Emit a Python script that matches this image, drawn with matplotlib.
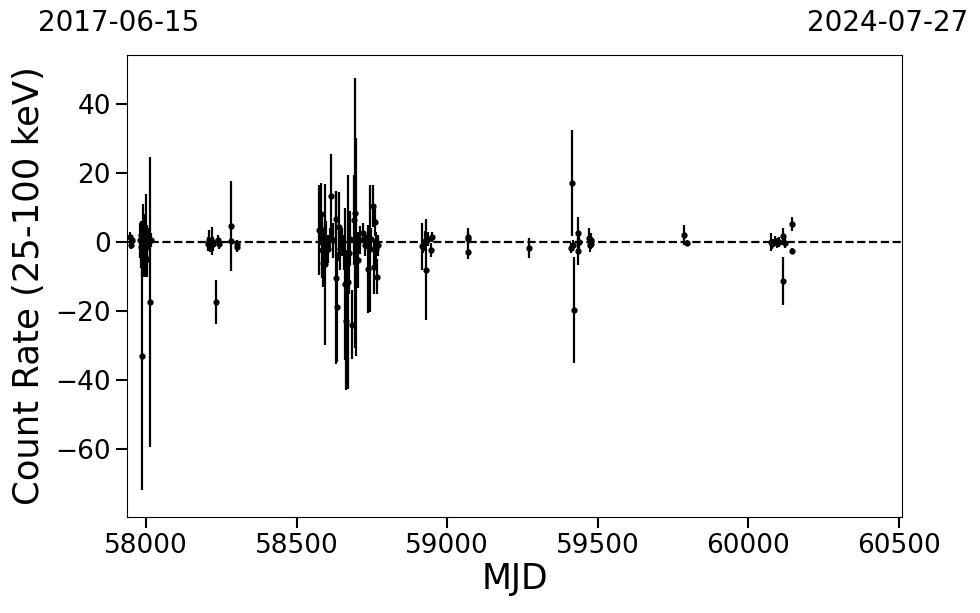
import matplotlib
matplotlib.use("Agg")
import matplotlib.pyplot as plt

# MJD, count rate, 1-sigma error
mjd = [57947, 57950, 57954,
       57980, 57983, 57985, 57987, 57988, 57990, 57992, 57994, 57997, 58000, 58003, 58005, 58008, 58013, 58017,
       58206, 58210, 58214, 58219, 58224, 58232, 58239, 58244, 58282, 58283, 58302, 58303,
       58574, 58581, 58584, 58584, 58588, 58591, 58594, 58598, 58604, 58611, 58614, 58621, 58631, 58631,
       58634, 58641, 58644, 58651, 58657, 58661, 58664, 58671, 58674, 58677, 58684, 58691, 58694, 58697,
       58704, 58710, 58720, 58727, 58734, 58737, 58744, 58747, 58754, 58757, 58760, 58764, 58767, 58770,
       58918, 58921, 58926, 58930, 58935, 58946, 58950, 59068, 59069, 59070, 59272,
       59412, 59414, 59418, 59421, 59434, 59434, 59436, 59472, 59474, 59476, 59478,
       59786, 59796,
       60076, 60080, 60088, 60095, 60102, 60115, 60115, 60122, 60145, 60145]
rate = [1.5, -0.8, 0.5,
        0.5, -1.5, 2.0, -3.0, -33.0, 1.0, -4.0, 3.0, -2.0, 2.0, 0.0, -5.0, 1.0, -17.5, 0.5,
        -0.5, 0.5, -1.0, 0.3, -0.5, -17.4, 0.5, -0.5, 4.6, 0.3, -1.5, -0.5,
        3.5, 8.0, 3.5, -2.3, -6.0, -1.0, -6.5, 0.0, -2.0, 1.0, 13.3, 0.5, 6.7, -10.4,
        -18.9, 4.4, -2.0, 0.0, -3.0, -12.2, -23.0, -11.5, -3.2, 1.0, -24.0, 6.4, 8.4, -1.5,
        -5.2, 0.5, 2.6, -1.0, 0.0, -7.8, -2.0, 1.0, 10.4, -7.2, 5.8, -2.0, -10.0, -1.0,
        -1.3, -1.2, 0.3, -8.0, 0.8, -2.3, 1.5, 1.5, -2.9, 1.0, -1.7,
        -1.7, 17.1, -1.0, -19.7, 2.6, -2.6, 0.0, 1.2, -0.9, 0.5, -0.5,
        2.0, -0.3,
        0.0, -0.5, 0.2, -0.3, 0.0, 1.7, -11.3, -0.3, 5.2, -2.6]
err = [1.5, 1.2, 1.5,
       5, 6, 4, 7, 39, 10, 6, 5, 8, 12, 5, 5, 3, 42, 2,
       2, 3, 2, 4, 2, 6.5, 1.5, 1.5, 13, 1, 1.5, 1.2,
       13, 9, 5, 8, 7, 5, 23.3, 6, 4, 3, 12.2, 5, 8, 25,
       16, 10, 6, 4, 5, 22, 20, 31, 12, 8, 10, 13, 39, 31.5,
       8, 4, 3, 3, 2, 12.8, 18.4, 3, 6, 8, 4, 5, 5, 3,
       6.8, 2, 3, 14.7, 2, 2, 1.5, 2.5, 2, 2, 3,
       1.5, 15.4, 1.5, 15.4, 4.7, 4, 2, 3, 2, 2, 1.5,
       3, 1,
       2.5, 1.5, 1.5, 1.5, 1.5, 2.5, 6.9, 1.5, 2, 1]

start_date = "2017-06-15"
end_date = "2024-07-27"

fig = plt.figure(figsize=(9.8, 6.13), dpi=100)
ax = fig.add_axes([0.1296, 0.1566, 0.7908, 0.7537])

ax.errorbar(mjd, rate, yerr=err, fmt='o', color='black', ms=3.5, elinewidth=1.6, capsize=0)
ax.axhline(0, color='black', ls='--', lw=1.6)

ax.set_xlim(57937, 60510)
ax.set_ylim(-79.7, 54.2)
ax.set_xticks([58000, 58500, 59000, 59500, 60000, 60500])
ax.set_yticks([-60, -40, -20, 0, 20, 40])
ax.tick_params(axis='both', which='major', labelsize=19, length=8, width=1.5)

ax.set_xlabel("MJD", fontsize=25, labelpad=2)
ax.set_ylabel("Count Rate (25-100 keV)", fontsize=25.5, labelpad=7)

fig.text(0.0388, 0.962, start_date, fontsize=20, ha='left', va='center')
fig.text(0.988, 0.962, end_date, fontsize=20, ha='right', va='center')

fig.savefig("out.png", dpi=100)
